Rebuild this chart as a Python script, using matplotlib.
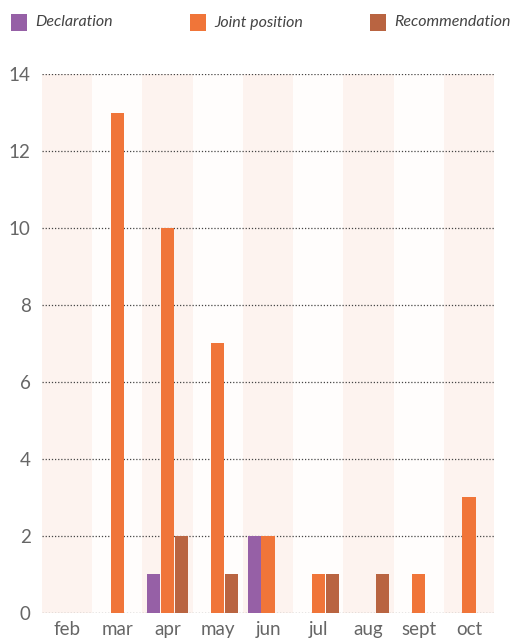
import numpy as np
import matplotlib.pyplot as plt
from matplotlib.patches import Rectangle

# data
months = ['feb', 'mar', 'apr', 'may', 'jun', 'jul', 'aug', 'sept', 'oct']
declaration = [0, 0, 1, 0, 2, 0, 0, 0, 0]
joint_position = [0, 13, 10, 7, 2, 1, 0, 1, 3]
recommendation = [0, 0, 2, 1, 0, 1, 1, 0, 0]
y_ticks = [0, 2, 4, 6, 8, 10, 12, 14]

series = [
    ('Declaration', declaration, '#9660a6', -1),
    ('Joint position', joint_position, '#f07539', 0),
    ('Recommendation', recommendation, '#b96441', 1),
]

plt.rcParams['font.family'] = ['Lato', 'DejaVu Sans']

W, H = 511, 639
fig = plt.figure(figsize=(W / 100, H / 100), dpi=100)
ax = fig.add_axes([0.082, 0.041, 0.885, 0.843])

x = np.arange(len(months))
# alternating background bands
for i in x:
    ax.axvspan(i - 0.5, i + 0.5, color='#fdf3ef' if i % 2 == 0 else '#fffdfc',
               zorder=0, lw=0)

w = 0.26
step = 0.275
for name, vals, col, off in series:
    vals = np.array(vals)
    mask = vals > 0
    ax.bar(x[mask] + off * step, vals[mask], width=w, color=col, zorder=3, lw=0)

ax.set_xlim(-0.5, len(months) - 0.5)
ax.set_ylim(0, 14)
ax.set_yticks(y_ticks)
ax.set_xticks(x)
ax.set_xticklabels(months)
for yv in y_ticks:
    ax.axhline(yv, color='#444444', lw=0.9, ls=(0, (1, 1.5)), zorder=2)

for s in ax.spines.values():
    s.set_visible(False)
ax.tick_params(length=0, labelsize=13.5, colors='#666666')
ax.tick_params(axis='y', pad=8)
ax.tick_params(axis='x', pad=6)

# legend drawn by hand so each entry sits where the reference puts it
leg_x = [11, 190, 370]
for (name, _, col, _), lx in zip(series, leg_x):
    fig.patches.append(Rectangle((lx / W, 1 - 31 / H), 16 / W, 17 / H,
                                 transform=fig.transFigure, color=col, lw=0))
    fig.text((lx + 24) / W, 1 - 22.5 / H, name, style='italic', fontsize=11.5,
             color='#444444', va='center', ha='left')

fig.savefig('out.png', dpi=100)
